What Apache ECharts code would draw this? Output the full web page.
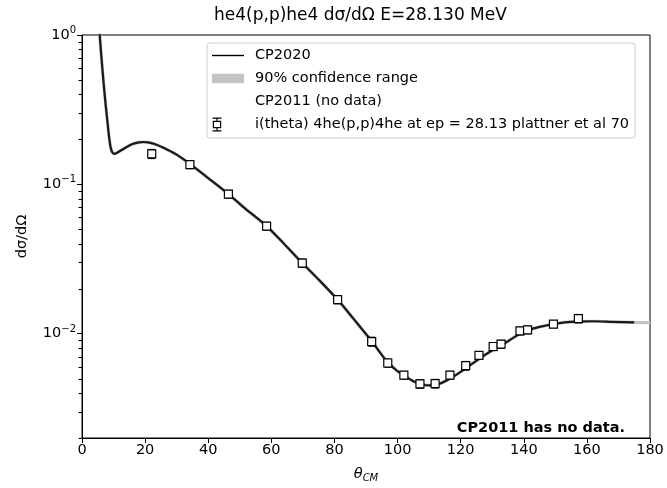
<!DOCTYPE html>
<html><head><meta charset="utf-8">
<script src="https://cdn.jsdelivr.net/npm/echarts@6/dist/echarts.min.js"></script>
<style>html,body{margin:0;padding:0;background:#fff}#c{width:667px;height:488px}</style>
</head><body><div id="c"></div>
<script>
// CP2020 theory curve (theta_CM in degrees, dsigma/dOmega)
const curveTheta = [5.5, 6.0, 6.5, 7.0, 7.5, 8.0, 8.5, 9.0, 9.5, 10.2, 11, 12, 14, 16, 18, 19.5, 21, 23, 26, 30, 34.2, 40, 46.4, 52, 58.5, 64, 69.8, 75, 81, 86, 91.8, 96.9, 100, 102, 105, 108, 110, 112, 114, 117, 120, 123, 126, 129, 132, 135, 138.8, 141.2, 145, 149.4, 153, 157, 162, 168, 175];
const curveValue = [1.08, 0.78, 0.58, 0.44, 0.34, 0.27, 0.215, 0.180, 0.165, 0.160, 0.162, 0.167, 0.177, 0.186, 0.191, 0.192, 0.191, 0.186, 0.175, 0.158, 0.137, 0.110, 0.086, 0.068, 0.0525, 0.0400, 0.0297, 0.0230, 0.0169, 0.0126, 0.0089, 0.00640, 0.00560, 0.00525, 0.00480, 0.00455, 0.00450, 0.00455, 0.00468, 0.00505, 0.00555, 0.00615, 0.00680, 0.00750, 0.00820, 0.00890, 0.01000, 0.01055, 0.01110, 0.01160, 0.01190, 0.01205, 0.01210, 0.01200, 0.01190];
// 90% confidence band (visible only at the end, beyond the curve)
const bandTheta = [5.5, 6.0, 6.5, 7.0, 7.5, 8.0, 8.5, 9.0, 9.5, 10.2, 11, 12, 14, 16, 18, 19.5, 21, 23, 26, 30, 34.2, 40, 46.4, 52, 58.5, 64, 69.8, 75, 81, 86, 91.8, 96.9, 100, 102, 105, 108, 110, 112, 114, 117, 120, 123, 126, 129, 132, 135, 138.8, 141.2, 145, 149.4, 153, 157, 162, 168, 175, 180];
const bandValue = [1.08, 0.78, 0.58, 0.44, 0.34, 0.27, 0.215, 0.180, 0.165, 0.160, 0.162, 0.167, 0.177, 0.186, 0.191, 0.192, 0.191, 0.186, 0.175, 0.158, 0.137, 0.110, 0.086, 0.068, 0.0525, 0.0400, 0.0297, 0.0230, 0.0169, 0.0126, 0.0089, 0.00640, 0.00560, 0.00525, 0.00480, 0.00455, 0.00450, 0.00455, 0.00468, 0.00505, 0.00555, 0.00615, 0.00680, 0.00750, 0.00820, 0.00890, 0.01000, 0.01055, 0.01110, 0.01160, 0.01190, 0.01205, 0.01210, 0.01200, 0.01190, 0.01185];
// Experimental data: plattner et al 70
const expTheta = [22.1, 34.2, 46.4, 58.5, 69.8, 81.0, 91.8, 96.9, 102.0, 107.1, 111.9, 116.6, 121.6, 125.8, 130.3, 132.8, 138.8, 141.2, 149.4, 157.3];
const expValue = [0.160, 0.1356, 0.0859, 0.0525, 0.0297, 0.01687, 0.00885, 0.00636, 0.00527, 0.00461, 0.00463, 0.00527, 0.0061, 0.00715, 0.0082, 0.0085, 0.01042, 0.0106, 0.01159, 0.01262];
const expError = [0.011, 0.008, 0.005, 0.003, 0.0018, 0.0010, 0.0006, 0.0004, 0.0003, 0.0003, 0.0003, 0.0003, 0.0004, 0.0004, 0.0005, 0.0005, 0.0006, 0.0006, 0.0006, 0.0008];
const xTicks = [0, 20, 40, 60, 80, 100, 120, 140, 160, 180];
const yMajorTicks = [0.01, 0.1, 1];
const yMinorTicks = [0.002, 0.003, 0.004, 0.005, 0.006, 0.007, 0.008, 0.009, 0.02, 0.03, 0.04, 0.05, 0.06, 0.07, 0.08, 0.09, 0.2, 0.3, 0.4, 0.5, 0.6, 0.7, 0.8, 0.9];

const nameCurve = 'CP2020';
const nameBand = '90% confidence range';
const nameOld = 'CP2011 (no data)';
const nameExp = 'i(theta) 4he(p,p)4he at ep = 28.13 plattner et al 70';
const FONT = 'DejaVu Sans';

const chart = echarts.init(document.getElementById('c'), null, {renderer: 'canvas'});
chart.setOption({
  animation: false,
  backgroundColor: '#fff',
  textStyle: {fontFamily: FONT},
  title: {
    text: 'he4(p,p)he4 dσ/dΩ E=28.130 MeV',
    left: 214, top: 7, padding: 0,
    textStyle: {fontFamily: FONT, fontSize: 17, fontWeight: 'normal', color: '#000'}
  },
  grid: {left: 82, right: 17, top: 35, bottom: 45, show: true, borderColor: '#000', borderWidth: 1, backgroundColor: 'transparent'},
  legend: {
    orient: 'vertical', left: 207, top: 43,
    padding: [5, 6, 6, 5], itemWidth: 32, itemHeight: 14, itemGap: 8,
    borderColor: '#cccccc', borderWidth: 1, borderRadius: 3,
    backgroundColor: 'rgba(255,255,255,0.85)',
    selectedMode: false,
    textStyle: {fontFamily: FONT, fontSize: 14.5, color: '#000', lineHeight: 14, padding: [0, 0, 0, 6]},
    data: [
      {name: nameCurve, icon: 'path://M0 6.3H32V7.7H0Z', itemStyle: {color: '#000', borderWidth: 0}},
      {name: nameBand, icon: 'path://M0 2.5H32V12H0Z', itemStyle: {color: '#c4c4c4', borderWidth: 0}},
      {name: nameOld, icon: 'rect', itemStyle: {color: 'rgba(0,0,0,0)', borderWidth: 0}},
      {name: nameExp, icon: 'path://M1 0H10V1.2H1Z M4.9 1H6.1V3.2H4.9Z M1.3 3.2H9.7V10.8H1.3Z M2.5 4.4V9.6H8.5V4.4Z M4.9 10.8H6.1V13H4.9Z M1 12.8H10V14H1Z M31.95 6.95H32V7H31.95Z', itemStyle: {color: '#000', borderWidth: 0}}
    ]
  },
  xAxis: {
    type: 'value', min: 0, max: 180, interval: 20,
    name: '{i|θ}{s|CM}', nameLocation: 'middle', nameGap: 27,
    nameTextStyle: {rich: {
      i: {fontFamily: FONT, fontStyle: 'italic', fontSize: 14.5, color: '#000'},
      s: {fontFamily: FONT, fontStyle: 'italic', fontSize: 10, color: '#000', padding: [8, 0, 0, 0]}
    }},
    axisLine: {show: true, lineStyle: {color: '#000', width: 1}},
    axisTick: {show: true, inside: false, length: 5, lineStyle: {color: '#000', width: 1}},
    axisLabel: {fontFamily: FONT, fontSize: 14.5, color: '#000', margin: 5},
    splitLine: {show: false}
  },
  yAxis: {
    type: 'log', logBase: 10, min: 0.002, max: 1,
    name: 'dσ/dΩ', nameLocation: 'middle', nameGap: 52,
    nameTextStyle: {fontFamily: FONT, fontSize: 14.5, color: '#000'},
    axisLine: {show: true, lineStyle: {color: '#000', width: 1}},
    axisTick: {show: true, inside: false, length: 5, customValues: yMajorTicks, lineStyle: {color: '#000', width: 1}},
    axisLabel: {
      customValues: yMajorTicks, margin: 6,
      formatter: function (v) {
        const e = Math.round(Math.log10(v));
        return '{b|10}{s|' + (e < 0 ? '\u2212' + (-e) : String(e)) + '}';
      },
      rich: {
        b: {fontFamily: FONT, fontSize: 14.5, color: '#000'},
        s: {fontFamily: FONT, fontSize: 10, color: '#000', padding: [0, 0, 9, 0]}
      }
    },
    splitLine: {show: false}, minorTick: {show: false}
  },
  series: [
    {
      name: nameBand, type: 'line', showSymbol: false, symbol: 'none',
      lineStyle: {color: '#c4c4c4', width: 3.2}, z: 1,
      data: bandTheta.map((t, i) => [t, bandValue[i]])
    },
    {
      name: nameCurve, type: 'line', showSymbol: false, symbol: 'none', smooth: 0.3,
      lineStyle: {color: '#1a1a1a', width: 2.2}, z: 2,
      data: curveTheta.map((t, i) => [t, curveValue[i]])
    },
    {
      name: nameOld, type: 'line', data: [], symbol: 'none',
      lineStyle: {color: 'rgba(0,0,0,0)'}, itemStyle: {color: 'rgba(0,0,0,0)'}
    },
    {
      name: nameExp, type: 'custom', z: 3,
      data: expTheta.map((t, i) => [t, expValue[i] - expError[i], expValue[i] + expError[i]]),
      renderItem: function (params, api) {
        const lo = api.coord([api.value(0), api.value(1)]);
        const hi = api.coord([api.value(0), api.value(2)]);
        const hw = 3.5;
        const st = {stroke: '#000', lineWidth: 1.3, fill: null};
        return {type: 'group', children: [
          {type: 'line', shape: {x1: lo[0], y1: lo[1], x2: hi[0], y2: hi[1]}, style: st},
          {type: 'line', shape: {x1: lo[0] - hw, y1: lo[1], x2: lo[0] + hw, y2: lo[1]}, style: st},
          {type: 'line', shape: {x1: hi[0] - hw, y1: hi[1], x2: hi[0] + hw, y2: hi[1]}, style: st}
        ]};
      }
    },
    {
      name: nameExp, type: 'scatter', z: 4, symbol: 'rect', symbolSize: 8,
      itemStyle: {color: '#fff', borderColor: '#000', borderWidth: 1.2, opacity: 1},
      data: expTheta.map((t, i) => [t, expValue[i]])
    }
  ],
  graphic: [{
    id: 'note', type: 'text', right: 42, top: 421,
    style: {text: 'CP2011 has no data.', fontFamily: FONT, fontSize: 14.5, fontWeight: 'bold', fill: '#000'}
  }]
});

// Minor ticks of the log axis, positioned through the chart's own scale
const axisX = chart.convertToPixel({xAxisIndex: 0}, 0);
const minorTickGraphics = yMinorTicks.map(function (v, i) {
  const y = Math.round(chart.convertToPixel({yAxisIndex: 0}, v)) + 0.5;
  return {id: 'minor' + i, type: 'line', z: 100, silent: true,
    shape: {x1: axisX - 3.5, y1: y, x2: axisX, y2: y},
    style: {stroke: '#000', lineWidth: 1}};
});
chart.setOption({graphic: minorTickGraphics});
</script>
</body></html>
